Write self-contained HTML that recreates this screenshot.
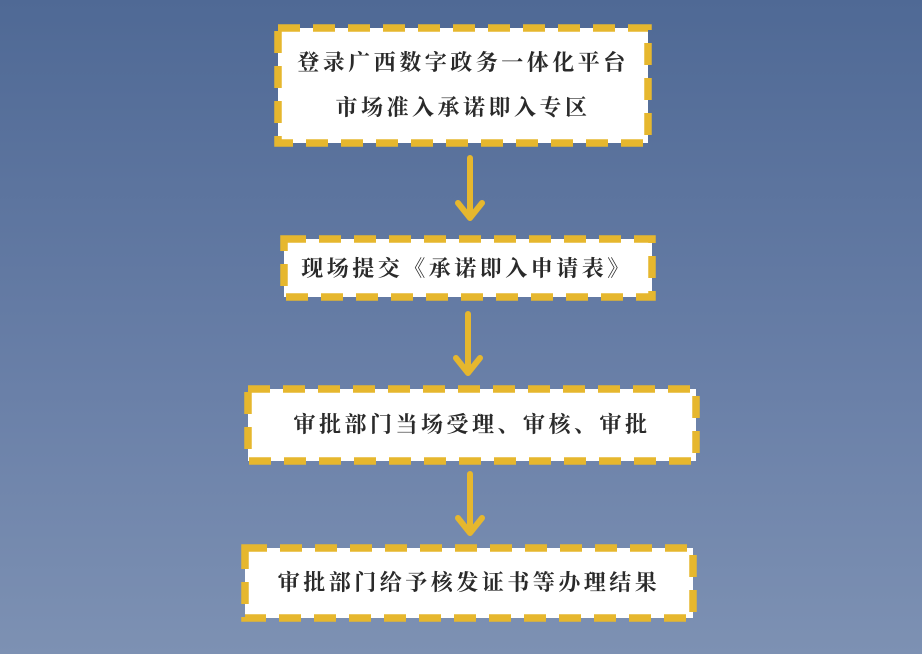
<!DOCTYPE html>
<html><head><meta charset="utf-8"><style>
html,body{margin:0;padding:0;width:922px;height:654px;overflow:hidden}
body{background:linear-gradient(#4f6995,#6a80a8 60%,#7d91b3)}
svg text{font-family:"Liberation Serif","Noto Serif CJK SC",serif;font-size:22px;font-weight:bold;fill:#2a2a2a;letter-spacing:3.5px}
</style></head><body>
<svg width="922" height="654" viewBox="0 0 922 654">
<g fill="#fff" stroke="#e6b72e" stroke-width="7.5" stroke-dasharray="22 13" stroke-linecap="butt">
<rect x="278" y="28" width="370" height="115"/>
<rect x="284" y="239" width="368" height="58"/>
<rect x="248" y="389" width="448" height="72"/>
<rect x="245" y="548" width="448" height="70"/>
</g>
<g stroke="#e6b72e" stroke-width="6" fill="none" stroke-linecap="round" stroke-linejoin="round">
<line x1="470" y1="158" x2="470" y2="217"/><polyline points="458,203 470,218 482,203"/>
<line x1="468" y1="314" x2="468" y2="372"/><polyline points="456,358 468,373 480,358"/>
<line x1="470" y1="474" x2="470" y2="532"/><polyline points="458,518 470,533 482,518"/>
</g>
<text x="463" y="70" text-anchor="middle">登录广西数字政务一体化平台</text>
<text x="463" y="115" text-anchor="middle">市场准入承诺即入专区</text>
<text x="467" y="276" text-anchor="middle">现场提交《承诺即入申请表》</text>
<text x="472" y="432" text-anchor="middle">审批部门当场受理、审核、审批</text>
<text x="469" y="590" text-anchor="middle">审批部门给予核发证书等办理结果</text>
</svg>
</body></html>
